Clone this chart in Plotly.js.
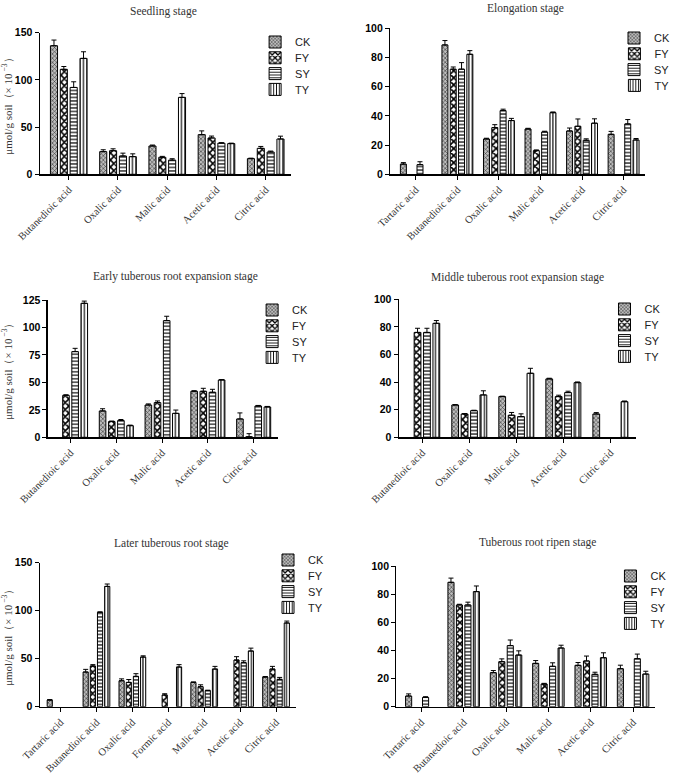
<!DOCTYPE html>
<html>
<head>
<meta charset="utf-8">
<script src="https://cdn.plot.ly/plotly-3.0.1.min.js"></script>
<style>html,body{margin:0;padding:0;background:#fff;}#chart{width:675px;height:773px;}</style>
</head>
<body>
<div id="chart"></div>
<script>
// ---------- DATA ----------
const seriesNames = ["CK", "FY", "SY", "TY"];

const titles = ["Seedling stage", "Elongation stage", "Early tuberous root expansion stage",
  "Middle tuberous root expansion stage", "Later tuberous root stage", "Tuberous root ripen stage"];

const cats5 = ["Butanedioic acid", "Oxalic acid", "Malic acid", "Acetic acid", "Citric acid"];
const cats6 = ["Tartaric acid", "Butanedioic acid", "Oxalic acid", "Malic acid", "Acetic acid", "Citric acid"];
const cats7 = ["Tartaric acid", "Butanedioic acid", "Oxalic acid", "Formic acid", "Malic acid", "Acetic acid", "Citric acid"];

// Seedling stage
const seedCK = [136.2, 24.0, 30.0, 42.0, 16.6];
const seedFY = [111.2, 25.0, 18.0, 38.5, 27.5];
const seedSY = [92.0, 19.4, 15.0, 33.0, 23.6];
const seedTY = [122.8, 18.7, 81.5, 32.5, 37.4];
const seedCKerr = [6, 2, 1, 4, 0.5];
const seedFYerr = [3, 2, 1, 2, 2];
const seedSYerr = [6, 3, 1.5, 0.5, 1];
const seedTYerr = [7, 3, 4, 0.5, 3];

// Elongation stage (null = not detected)
const elonCK = [7.0, 88.6, 24.2, 31.0, 29.7, 27.4];
const elonFY = [null, 72.0, 32.0, 16.2, 32.9, null];
const elonSY = [6.6, 72.0, 43.6, 29.0, 23.3, 34.5];
const elonTY = [null, 82.2, 36.8, 42.2, 35.0, 23.5];
const elonCKerr = [1, 3, 0.5, 0.5, 2, 2];
const elonFYerr = [0, 1.5, 2, 0.5, 5, 0];
const elonSYerr = [2, 4.5, 1, 0.5, 1, 3];
const elonTYerr = [0, 2.5, 1.5, 0.5, 3, 1];

// Early tuberous root expansion stage
const earlyCK = [null, 24.0, 29.4, 41.9, 16.7];
const earlyFY = [38.2, 14.3, 31.6, 41.9, 0.5];
const earlySY = [78.0, 15.2, 106.2, 41.0, 28.5];
const earlyTY = [122.0, 10.6, 21.8, 52.2, 27.6];
const earlyCKerr = [0, 2, 1, 0.5, 5.5];
const earlyFYerr = [0.5, 0.5, 1.5, 2.7, 2.8];
const earlySYerr = [3, 1, 4, 2.7, 0.5];
const earlyTYerr = [2, 0.5, 3, 0.3, 0.5];

// Middle tuberous root expansion stage
const midCK = [null, 23.4, 29.5, 42.3, 16.9];
const midFY = [76.0, 16.9, 16.0, 29.5, null];
const midSY = [76.0, 19.3, 15.0, 32.4, null];
const midTY = [82.6, 30.7, 46.4, 39.6, 25.8];
const midCKerr = [0, 0.3, 0.3, 0.5, 1];
const midFYerr = [3, 0.3, 2, 1, 0];
const midSYerr = [3, 0.3, 2, 1, 0];
const midTYerr = [2, 3, 3.6, 0.5, 0.5];

// Later tuberous root stage
const lateCK = [6.9, 36.1, 27.0, null, 25.3, null, 30.9];
const lateFY = [null, 42.4, 25.3, 12.2, 20.8, 48.6, 39.2];
const lateSY = [null, 98.3, 31.6, null, 16.7, 45.8, 28.5];
const lateTY = [null, 125.3, 51.7, 41.3, 39.2, 58.0, 87.2];
const lateCKerr = [0.5, 2.8, 2, 0, 0.5, 0, 0.5];
const lateFYerr = [0, 1.4, 3, 1.3, 2, 3.5, 2.8];
const lateSYerr = [0, 0.5, 2.8, 0, 0.5, 2, 2];
const lateTYerr = [0, 2.5, 1.3, 2.5, 2.8, 3, 2];

// Tuberous root ripen stage
const ripeCK = [7.6, 88.4, 24.2, 30.8, 29.4, 27.0];
const ripeFY = [null, 72.3, 32.0, 16.1, 32.5, null];
const ripeSY = [6.6, 72.3, 43.4, 28.7, 23.0, 34.1];
const ripeTY = [null, 81.8, 36.7, 41.7, 34.8, 23.2];
const ripeCKerr = [1.5, 3, 1.5, 2, 2, 2.5];
const ripeFYerr = [0, 0.5, 2, 0.5, 3.5, 0];
const ripeSYerr = [0.5, 2, 4, 2.5, 1.5, 3.3];
const ripeTYerr = [0, 4, 3, 2, 3.5, 2];

const yMax = [150, 100, 125, 100, 150, 100];
const yDtick = [50, 20, 25, 20, 50, 20];
const panelCats = [cats5, cats6, cats5, cats5, cats7, cats6];
const panelVals = [
  [seedCK, seedFY, seedSY, seedTY], [elonCK, elonFY, elonSY, elonTY],
  [earlyCK, earlyFY, earlySY, earlyTY], [midCK, midFY, midSY, midTY],
  [lateCK, lateFY, lateSY, lateTY], [ripeCK, ripeFY, ripeSY, ripeTY]];
const panelErrs = [
  [seedCKerr, seedFYerr, seedSYerr, seedTYerr], [elonCKerr, elonFYerr, elonSYerr, elonTYerr],
  [earlyCKerr, earlyFYerr, earlySYerr, earlyTYerr], [midCKerr, midFYerr, midSYerr, midTYerr],
  [lateCKerr, lateFYerr, lateSYerr, lateTYerr], [ripeCKerr, ripeFYerr, ripeSYerr, ripeTYerr]];

// ---------- LAYOUT (pixel geometry) ----------
const W = 675, H = 773;
// [left, right, top, bottom] of each plot area in pixels
const boxes = [
  [40, 293, 32.7, 174.3], [393, 650, 28.3, 174.3],
  [48, 280, 300, 437.3], [401.7, 641, 299.3, 437.3],
  [40, 298, 562.7, 706.7], [399.3, 660, 566, 706.7]];
const xRanges = [[-0.59, 4.51], [-0.62, 5.52], [-0.50, 4.53], [-0.50, 4.55], [-0.58, 6.55], [-0.59, 5.52]];
const titlePos = [[165, 12], [529, 8], [177, 276], [521, 277], [173, 543], [542, 542]];
// legend: left x (px) and centre y of first row (px); rows step 16 px
const legendX = [257, 619, 254, 609, 270, 615];
const legendY0 = [42, 38, 310, 309, 560, 576];
const legendStep = 15.8;
const showYTitle = [true, false, true, false, true, false];

const patterns = [
  {shape: "x", size: 3, solidity: 0.35, fgcolor: "#333", bgcolor: "#bdbdbd"},
  {shape: "x", size: 5, solidity: 0.55, fgcolor: "#000", bgcolor: "#fff"},
  {shape: "-", size: 3.5, solidity: 0.35, fgcolor: "#111", bgcolor: "#fff"},
  {shape: "|", size: 3.5, solidity: 0.35, fgcolor: "#111", bgcolor: "#fff"}];

const traces = [];
const layout = {
  width: W, height: H, margin: {l: 0, r: 0, t: 0, b: 0},
  paper_bgcolor: "#fff", plot_bgcolor: "#fff",
  barmode: "group", bargap: 0.2, bargroupgap: 0.28,
  showlegend: true, annotations: []
};

const serif = "Liberation Serif, Times New Roman, serif";
const sans = "Liberation Sans, Arial, sans-serif";

let legendIdx = 0;
for (let p = 0; p < 6; p++) {
  const n = p + 1;
  const xa = n === 1 ? "x" : "x" + n;
  const ya = n === 1 ? "y" : "y" + n;
  const [l, r, t, b] = boxes[p];
  for (let s = 0; s < 4; s++) {
    legendIdx++;
    const lg = legendIdx === 1 ? "legend" : "legend" + legendIdx;
    const vals = panelVals[p][s];
    const errs = panelErrs[p][s];
    traces.push({
      type: "bar", name: seriesNames[s],
      x: panelCats[p], y: vals,
      xaxis: xa, yaxis: ya, legend: lg,
      marker: {color: "#fff", line: {color: "#000", width: 1}, pattern: patterns[s]},
      error_y: {type: "data", array: errs.map((e, i) => vals[i] === null ? null : e),
        arrayminus: errs.map(() => 0),
        symmetric: false, color: "#000", thickness: 1, width: 2.5},
      showlegend: true
    });
    layout[lg] = {
      x: legendX[p] / W, y: 1 - (legendY0[p] + s * legendStep) / H,
      xanchor: "left", yanchor: "middle", xref: "paper", yref: "paper",
      font: {family: sans, size: 11, color: "#222"},
      bgcolor: "rgba(0,0,0,0)", borderwidth: 0, itemwidth: 30
    };
  }
  layout[n === 1 ? "xaxis" : "xaxis" + n] = {
    domain: [l / W, r / W], anchor: ya, type: "category",
    range: xRanges[p], showgrid: false, zeroline: false,
    showline: true, linecolor: "#000", linewidth: 1.2,
    ticks: "outside", ticklen: 4, tickcolor: "#000", tickwidth: 1,
    tickangle: -45, tickfont: {family: serif, size: 10.5, color: "#333"},
    fixedrange: true
  };
  const yax = {
    domain: [1 - b / H, 1 - t / H], anchor: xa,
    range: [0, yMax[p]], dtick: yDtick[p], tick0: 0,
    showgrid: false, zeroline: false,
    showline: true, linecolor: "#000", linewidth: 1.2,
    ticks: "outside", ticklen: 4, tickcolor: "#000", tickwidth: 1,
    tickfont: {family: sans, size: 10.5, color: "#000", weight: "bold"},
    fixedrange: true
  };
  if (showYTitle[p]) {
    yax.title = {text: "μmol/g soil（× 10<sup> −3</sup>）", font: {family: serif, size: 11, color: "#333"}, standoff: 8};
  }
  layout[n === 1 ? "yaxis" : "yaxis" + n] = yax;
  layout.annotations.push({
    text: titles[p], xref: "paper", yref: "paper",
    x: titlePos[p][0] / W, y: 1 - titlePos[p][1] / H, xanchor: "center", yanchor: "middle",
    showarrow: false, font: {family: serif, size: 11.5, color: "#333"}
  });
}

Plotly.newPlot("chart", traces, layout, {displayModeBar: false, staticPlot: true});
</script>
</body>
</html>
